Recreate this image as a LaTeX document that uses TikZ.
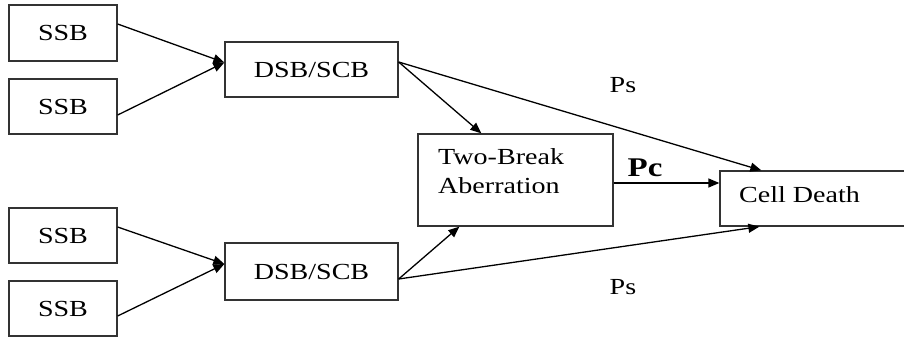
\documentclass[tikz,border=0pt]{standalone}
\usepackage{fontspec}
\setmainfont{Liberation Serif}[FakeStretch=1.22]
\usetikzlibrary{arrows.meta}
\begin{document}
\begin{tikzpicture}[x=1pt,y=-1pt,
  box/.style={draw=black!80, line width=1.3pt, inner sep=0pt, font=\fontsize{23}{29}\selectfont},
  conn/.style={line width=1.3pt, -{Triangle[length=11pt,width=9pt]}},
  lbl/.style={inner sep=0pt, font=\fontsize{23}{29}\selectfont}]
\clip (0,0) rectangle (904,338);
\fill[white] (0,0) rectangle (904,338);
% SSB boxes
\node[box, minimum width=108pt, minimum height=56pt] (s1) at (63,33) {SSB};
\node[box, minimum width=108pt, minimum height=55pt] (s2) at (63,106.5) {SSB};
\node[box, minimum width=108pt, minimum height=55pt] (s3) at (63,235.5) {SSB};
\node[box, minimum width=108pt, minimum height=55pt] (s4) at (63,308.5) {SSB};
% DSB/SCB boxes
\node[box, minimum width=173pt, minimum height=55pt] (d1) at (311.5,69.5) {DSB/SCB};
\node[box, minimum width=173pt, minimum height=57pt] (d2) at (311.5,271.5) {DSB/SCB};
% Two-break aberration
\node[box, minimum width=195pt, minimum height=92pt] (tb) at (515.5,180) {};
\node[lbl, anchor=west, align=left] (tbtext) at (438,171) {Two-Break\\Aberration};
% Cell death
\node[box, minimum width=190pt, minimum height=55pt] (cd) at (815,198.5) {};
\node[lbl, anchor=west] (cdtext) at (739,195) {Cell Death};
% connectors
\draw[conn] ([yshift=9pt]s1.east) -- ([yshift=7pt]d1.west);
\draw[conn] ([yshift=-8.5pt]s2.east) -- ([yshift=7pt]d1.west);
\draw[conn] ([yshift=8.5pt]s3.east) -- ([yshift=7.5pt]d2.west);
\draw[conn] ([yshift=-7.5pt]s4.east) -- ([yshift=7.5pt]d2.west);
\draw[conn] ([yshift=7.5pt]d1.east) -- ([xshift=64pt]tb.north west);
\draw[conn] ([yshift=7.5pt]d1.east) -- ([xshift=42pt]cd.north west);
\draw[conn] ([yshift=-7.5pt]d2.east) -- ([xshift=42pt]tb.south west);
\draw[conn] ([yshift=-7.5pt]d2.east) -- ([xshift=40pt]cd.south west);
\draw[conn] ([yshift=-3pt]tb.east) -- ([yshift=-3pt]tb.east -| cd.west);
% labels
\node[lbl] (ps1) at (623,85) {Ps};
\node[lbl, font=\fontsize{27}{30}\selectfont\bfseries] (pc) at (645,168) {Pc};
\node[lbl] (ps2) at (623,287) {Ps};
\end{tikzpicture}
\end{document}
